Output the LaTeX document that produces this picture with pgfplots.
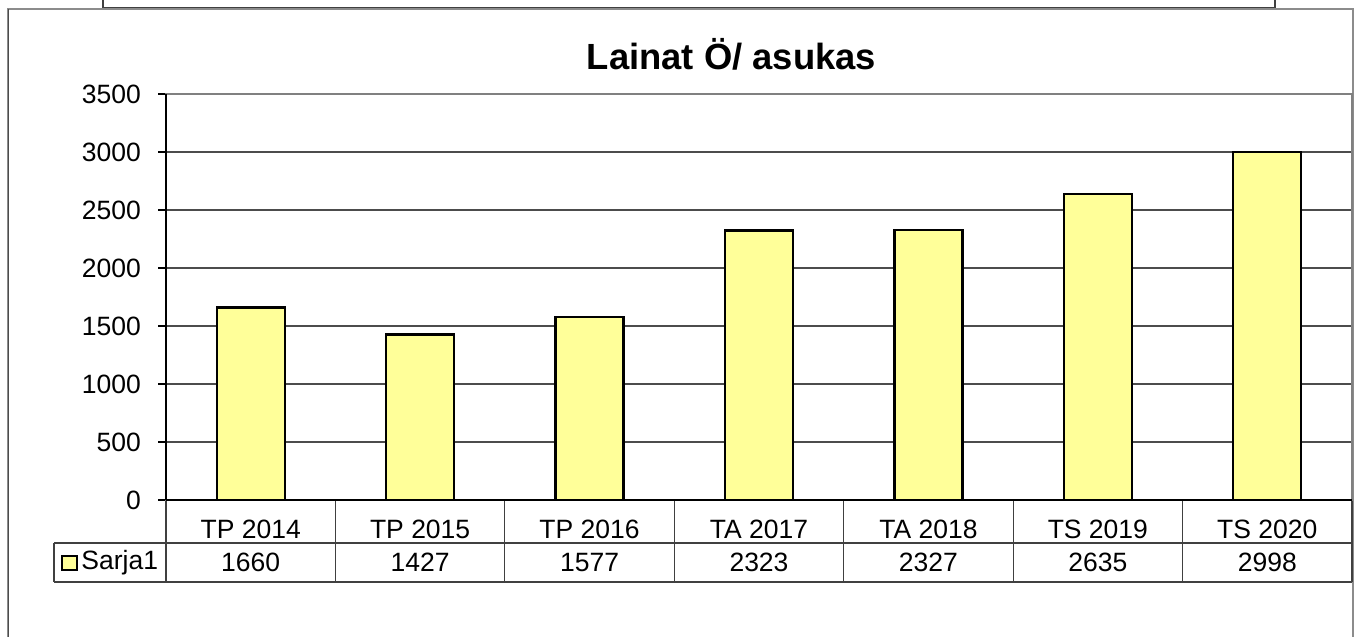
\documentclass[border=0pt]{standalone}
\usepackage{fontspec}
\setmainfont{Liberation Sans}
\usepackage{pgfplots}
\usepackage{pgfplotstable}
\pgfplotsset{compat=1.18}
\definecolor{baryellow}{HTML}{FFFF99}
\definecolor{boxgray}{HTML}{808080}
\pgfplotstableread{
x y
0 1660
1 1427
2 1577
3 2323
4 2327
5 2635
6 2998
}\data
\begin{document}
\fontsize{13.25}{15}\selectfont
\begin{tikzpicture}
\useasboundingbox (0,0) rectangle (678.5pt,-318.5pt);
\begin{scope}[x=0.5pt,y=-0.5pt]
% partial box of chart above
\draw[black!75, line width=0.6pt] (103,-2) -- (103,8) -- (1275,8) -- (1275,-2);
% outer frame
\draw[black!45, line width=1pt] (8,640) -- (8,9) -- (1353,9) -- (1353,640);
\draw[black!70, line width=0.5pt] (8,640) -- (8,9);
% title
\node[font=\fontsize{18.2}{21}\selectfont\bfseries, anchor=base] at (731.5,69.5) {Lainat Ö/ asukas};
% table lines
\draw[black!75, line width=0.6pt] (54,543) -- (1352,543);
\draw[black!75, line width=0.6pt] (54,582) -- (1352,582);
\draw[black!75, line width=0.6pt] (54,543) -- (54,582);
\draw[black!75, line width=0.6pt] (166,500) -- (166,582);
\foreach \k in {1,...,6} {\draw[black!75, line width=0.6pt] ({166+\k*169.43},500) -- ({166+\k*169.43},582);}
\draw[black!75, line width=0.6pt] (1352,500) -- (1352,582);
% legend key
\draw[fill=baryellow, draw=black, line width=1pt] (62,556) rectangle (77,570);
\node[anchor=west, inner sep=0pt] at (81,563) {Sarja1};
\end{scope}
\begin{axis}[
  at={(83pt,-250pt)}, anchor=south west,
  scale only axis, width=593pt, height=203pt,
  xmin=-0.5, xmax=6.5, ymin=0, ymax=3500,
  ytick={0,500,...,3500},
  ytick pos=left,
  xtick=data,
  xticklabels={TP 2014,TP 2015,TP 2016,TA 2017,TA 2018,TS 2019,TS 2020},
  xtick style={draw=none},
  xticklabel style={anchor=center, yshift=-10.75pt},
  ytick style={black, line width=0.6pt},
  tick align=outside, major tick length=4pt,
  yticklabel style={anchor=east, xshift=-4pt},
  ymajorgrids, grid style={black!70, line width=0.6pt},
  axis line style={boxgray, line width=1pt},
  /pgf/number format/assume math mode=true,
  /pgf/number format/1000 sep={},
  ticklabel style={font=\fontsize{13.25}{15}\selectfont},
  clip=false,
]
\addplot[ybar, bar width=34pt, fill=baryellow, draw=black, line width=1.1pt] table[x=x,y=y] {\data};
\addplot[draw=none, mark=none, nodes near coords, point meta=explicit,
  every node near coord/.style={anchor=center, font=\fontsize{13.25}{15}\selectfont, /pgf/number format/1000 sep={}, /pgf/number format/assume math mode=true}]
  table[x=x, y expr=-538.8, meta=y] {\data};
\draw[black, line width=0.7pt] (rel axis cs:0,0) -- (rel axis cs:0,1);
\draw[black, line width=0.7pt] (rel axis cs:0,0) -- (rel axis cs:1,0);
\end{axis}
\end{tikzpicture}
\end{document}
